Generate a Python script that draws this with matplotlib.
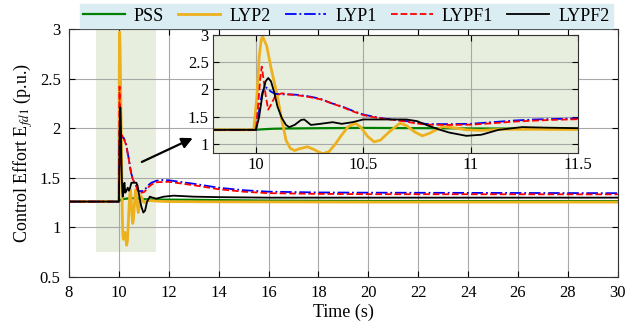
import numpy as np
import matplotlib

matplotlib.use("Agg")
import matplotlib.pyplot as plt
from matplotlib.ticker import FormatStrFormatter

plt.rcParams["font.family"] = "serif"
plt.rcParams["font.serif"] = ["Liberation Serif", "DejaVu Serif"]
plt.rcParams["mathtext.fontset"] = "stix"

# excitation voltage E_fd1 (p.u.) for each controller, time in seconds
t_pss = [8, 10.0, 10.03, 10.08, 10.15, 10.3, 10.5, 10.8, 11.0, 11.3, 11.6, 12.0,
         13, 14, 16, 18, 20, 25, 30]
e_pss = [1.26, 1.26, 1.27, 1.28, 1.285, 1.29, 1.295, 1.29, 1.285, 1.282, 1.28, 1.28,
         1.278, 1.275, 1.27, 1.268, 1.266, 1.265, 1.265]

t_lyp2 = [8, 9.99, 10.005, 10.015, 10.025, 10.031, 10.05, 10.07, 10.09, 10.1, 10.12,
          10.14, 10.16, 10.18, 10.2, 10.24, 10.27, 10.31, 10.34, 10.37, 10.4, 10.43,
          10.465, 10.49, 10.52, 10.55, 10.58, 10.62, 10.67, 10.7, 10.74, 10.775, 10.81,
          10.87, 10.92, 10.98, 11.05, 11.15, 11.3, 11.5, 12, 14, 20, 30]
e_lyp2 = [1.26, 1.26, 1.9, 2.6, 2.92, 2.97, 2.8, 2.4, 2.05, 1.87, 1.45,
          1.07, 0.92, 0.88, 0.91, 0.95, 0.9, 0.82, 0.86, 1.0, 1.17, 1.32,
          1.38, 1.3, 1.14, 1.04, 1.07, 1.22, 1.38, 1.34, 1.22, 1.15, 1.2,
          1.32, 1.3, 1.26, 1.25, 1.27, 1.27, 1.265, 1.26, 1.258, 1.255, 1.255]

t_lyp1 = [8, 10.0, 10.01, 10.02, 10.03, 10.04, 10.05, 10.07, 10.09, 10.12, 10.16,
          10.2, 10.25, 10.3, 10.35, 10.4, 10.45, 10.5, 10.55, 10.6, 10.65, 10.7,
          10.75, 10.8, 10.9, 11.0, 11.1, 11.2, 11.3, 11.4, 11.5, 11.7, 12, 13, 14,
          15, 16, 18, 20, 30]
e_lyp1 = [1.26, 1.26, 1.5, 1.75, 1.95, 2.04, 2.03, 1.96, 1.92, 1.91, 1.91,
          1.9, 1.87, 1.83, 1.75, 1.69, 1.61, 1.54, 1.5, 1.465, 1.445, 1.42,
          1.39, 1.365, 1.365, 1.37, 1.4, 1.43, 1.45, 1.46, 1.47, 1.478, 1.475, 1.44, 1.4,
          1.375, 1.36, 1.352, 1.35, 1.345]

t_lypf1 = [8, 10.0, 10.01, 10.02, 10.027, 10.035, 10.045, 10.057, 10.07, 10.09, 10.12,
           10.15, 10.2, 10.25, 10.3, 10.35, 10.4, 10.45, 10.5, 10.55, 10.6, 10.65,
           10.7, 10.75, 10.8, 10.9, 11.0, 11.1, 11.2, 11.3, 11.4, 11.5, 12, 13, 14,
           15, 16, 18, 20, 30]
e_lypf1 = [1.26, 1.26, 1.7, 2.2, 2.42, 2.2, 1.9, 1.63, 1.72, 1.88, 1.93,
           1.91, 1.89, 1.86, 1.82, 1.75, 1.68, 1.6, 1.53, 1.49, 1.46, 1.44,
           1.41, 1.375, 1.355, 1.35, 1.355, 1.38, 1.41, 1.43, 1.445, 1.455, 1.46, 1.425, 1.385,
           1.36, 1.345, 1.338, 1.335, 1.333]

t_lypf2 = [8, 10.0, 10.015, 10.03, 10.045, 10.057, 10.07, 10.085, 10.1, 10.12, 10.14,
           10.155, 10.18, 10.21, 10.225, 10.256, 10.3, 10.357, 10.4, 10.45, 10.5, 10.6,
           10.7, 10.75, 10.8, 10.85, 10.9, 10.98, 11.05, 11.13, 11.24, 11.35, 11.5, 11.8,
           12.2, 13, 14, 16, 20, 30]
e_lypf2 = [1.26, 1.26, 1.5, 1.9, 2.15, 2.21, 2.15, 1.95, 1.69, 1.48, 1.35,
           1.31, 1.35, 1.44, 1.45, 1.35, 1.37, 1.4, 1.37, 1.4, 1.45, 1.45,
           1.45, 1.42, 1.34, 1.27, 1.21, 1.15, 1.17, 1.26, 1.31, 1.3, 1.29, 1.31,
           1.32, 1.31, 1.305, 1.3, 1.3, 1.3]

series = [
    ("PSS", t_pss, e_pss, dict(color="#008000", lw=1.6, ls="-")),
    ("LYP2", t_lyp2, e_lyp2, dict(color="#EDB120", lw=2.0, ls="-")),
    ("LYP1", t_lyp1, e_lyp1, dict(color="#0000FF", lw=1.3, ls="-.")),
    ("LYPF1", t_lypf1, e_lypf1, dict(color="#FF0000", lw=1.3, ls="--")),
    ("LYPF2", t_lypf2, e_lypf2, dict(color="black", lw=1.3, ls="-")),
]

shade = "#e8eedd"
zoom_t = (9.1, 11.5)
zoom_e = (0.75, 3.0)


def style_axes(ax):
    ax.tick_params(direction="in", top=True, right=True, labelsize=12,
                   length=4, width=0.8)
    ax.grid(True, color="#a8a8a8", lw=0.8)
    ax.set_axisbelow(True)
    for sp in ax.spines.values():
        sp.set_linewidth(0.8)
        sp.set_color("#333333")


fig = plt.figure(figsize=(6.33, 3.28), dpi=100)
ax = fig.add_axes([0.109, 0.1555, 0.867, 0.756])

ax.fill_between(zoom_t, zoom_e[0], zoom_e[1], color=shade, lw=0, zorder=0.1)
lines = []
for name, t, e, kw in series:
    (ln,) = ax.plot(t, e, label=name, **kw)
    lines.append(ln)

ax.set_xlim(8, 30)
ax.set_ylim(0.5, 3)
ax.set_xticks(np.arange(8, 31, 2))
ax.set_yticks(np.arange(0.5, 3.01, 0.5))
ax.yaxis.set_major_formatter(FormatStrFormatter("%g"))
style_axes(ax)
ax.tick_params(axis="x", pad=6)
ax.tick_params(axis="y", pad=6)
ax.set_xlabel("Time (s)", fontsize=13, labelpad=2)
ax.set_ylabel(r"Control Effort E$_{fd1}$ (p.u.)", fontsize=13, labelpad=3)

ax.annotate("", xy=(12.96, 1.90), xytext=(10.92, 1.66),
            arrowprops=dict(arrowstyle="-|>", color="black", lw=1.6,
                            mutation_scale=16, shrinkA=0, shrinkB=0))

# magnified view of the first 1.5 s after the fault
ins = fig.add_axes([0.3365, 0.5335, 0.5766, 0.36])
ins.set_facecolor(shade)
for name, t, e, kw in series:
    ins.plot(t, e, **kw)
ins.set_xlim(9.8, 11.5)
ins.set_ylim(0.835, 3.0)
ins.set_xticks([10, 10.5, 11, 11.5])
ins.set_yticks([1, 1.5, 2, 2.5, 3])
ins.xaxis.set_major_formatter(FormatStrFormatter("%g"))
ins.yaxis.set_major_formatter(FormatStrFormatter("%g"))
style_axes(ins)
ins.tick_params(pad=3)

leg = fig.legend(handles=lines, loc="center", bbox_to_anchor=(0.547, 0.951),
                 ncol=5, fontsize=13, frameon=True, fancybox=False,
                 facecolor="#d9edf3", edgecolor="#d9edf3", framealpha=1,
                 handlelength=2.3, columnspacing=0.8, handletextpad=0.5,
                 borderpad=0.2, borderaxespad=0)

fig.savefig("out.png", dpi=100)
